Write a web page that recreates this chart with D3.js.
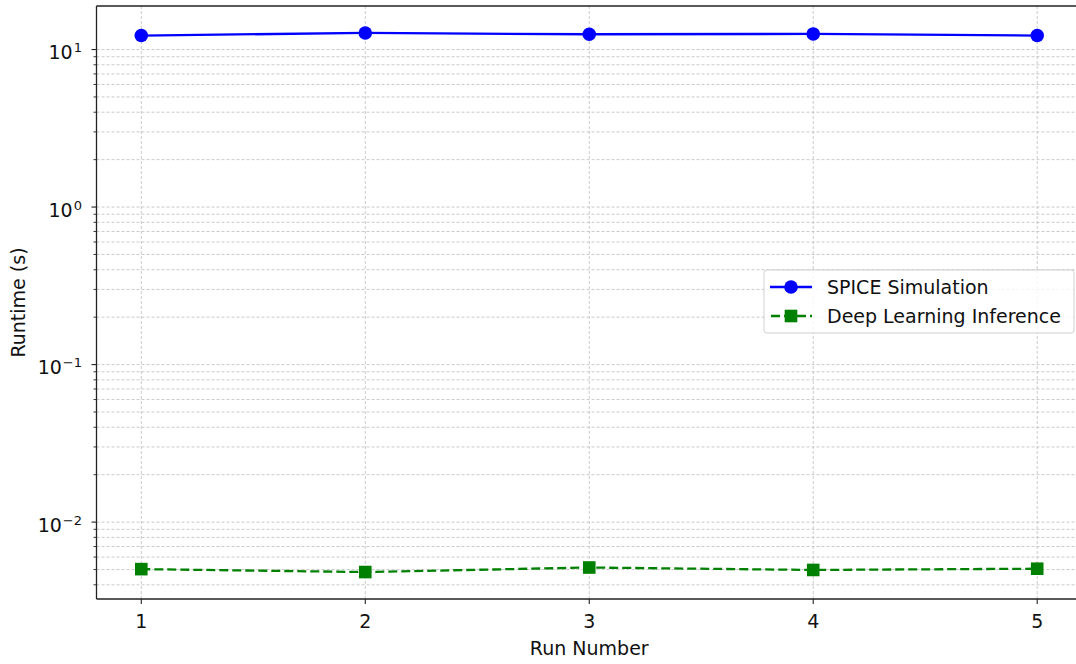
<!DOCTYPE html>
<html>
<head>
<meta charset="utf-8">
<script src="https://cdn.jsdelivr.net/npm/d3@7"></script>
<style>
  body { margin: 0; background: #fff; }
  svg { display: block; font-family: "DejaVu Sans", sans-serif; }
</style>
</head>
<body>
<svg id="chart" width="1076" height="664"></svg>
<script>
// data
const runs = [1, 2, 3, 4, 5];
const spiceRuntime = [12.27, 12.74, 12.50, 12.56, 12.27];
const dlRuntime = [0.00503, 0.00482, 0.00515, 0.00497, 0.00506];
const decadeTicks = [0.01, 0.1, 1, 10];
const xLabel = "Run Number";
const yLabel = "Runtime (s)";
const seriesNames = ["SPICE Simulation", "Deep Learning Inference"];

const svg = d3.select("#chart");
const plotLeft = 96.5, plotRight = 1082, plotTop = 6, plotBottom = 599;
const fontPx = "19px";

const xScale = d3.scaleLinear().domain([0.8, 5.2]).range([plotLeft, plotRight]);

// log axis with a 5% margin in log space, like matplotlib's autoscale
const allVals = spiceRuntime.concat(dlRuntime);
const lo = Math.log10(d3.min(allVals)), hi = Math.log10(d3.max(allVals));
const pad = (hi - lo) * 0.05;
const yScale = d3.scaleLog()
    .domain([Math.pow(10, lo - pad), Math.pow(10, hi + pad)])
    .range([plotBottom, plotTop]);

const [yMin, yMax] = yScale.domain();
let minorTicks = [];
for (let e = -4; e <= 2; e++) {
    for (let m = 2; m <= 9; m++) {
        const v = m * Math.pow(10, e);
        if (v >= yMin && v <= yMax) minorTicks.push(v);
    }
}

const gridColor = "#bdbdbd";
const grid = svg.append("g");
grid.selectAll(".ygrid")
    .data(decadeTicks.concat(minorTicks))
    .enter()
    .append("line")
    .attr("x1", plotLeft).attr("x2", plotRight)
    .attr("y1", d => yScale(d)).attr("y2", d => yScale(d))
    .style("stroke", gridColor)
    .style("stroke-width", 0.8)
    .style("stroke-dasharray", "3,2");
grid.selectAll(".xgrid")
    .data(runs)
    .enter()
    .append("line")
    .attr("x1", d => xScale(d)).attr("x2", d => xScale(d))
    .attr("y1", plotTop).attr("y2", plotBottom)
    .style("stroke", gridColor)
    .style("stroke-width", 0.8)
    .style("stroke-dasharray", "3,2");

// spines
svg.append("line").attr("x1", plotLeft).attr("x2", plotLeft).attr("y1", plotTop).attr("y2", plotBottom)
    .style("stroke", "#222").style("stroke-width", 1.3);
svg.append("line").attr("x1", plotLeft).attr("x2", plotRight).attr("y1", plotBottom).attr("y2", plotBottom)
    .style("stroke", "#222").style("stroke-width", 1.3);
svg.append("line").attr("x1", plotLeft).attr("x2", plotRight).attr("y1", plotTop).attr("y2", plotTop)
    .style("stroke", "#222").style("stroke-width", 1.3);

// x axis ticks
const xAxis = svg.append("g");
xAxis.selectAll(".xt")
    .data(runs)
    .enter()
    .append("line")
    .attr("x1", d => xScale(d)).attr("x2", d => xScale(d))
    .attr("y1", plotBottom).attr("y2", plotBottom + 5)
    .style("stroke", "#222").style("stroke-width", 1.1);
xAxis.selectAll(".xl")
    .data(runs)
    .enter()
    .append("text")
    .attr("x", d => xScale(d))
    .attr("y", 628)
    .attr("text-anchor", "middle")
    .style("font-size", fontPx)
    .style("fill", "#111")
    .text(d => d);

// y axis ticks
const yAxis = svg.append("g");
yAxis.selectAll(".ymaj")
    .data(decadeTicks)
    .enter()
    .append("line")
    .attr("x1", plotLeft - 5).attr("x2", plotLeft)
    .attr("y1", d => yScale(d)).attr("y2", d => yScale(d))
    .style("stroke", "#222").style("stroke-width", 1.1);
yAxis.selectAll(".ymin")
    .data(minorTicks)
    .enter()
    .append("line")
    .attr("x1", plotLeft - 3).attr("x2", plotLeft)
    .attr("y1", d => yScale(d)).attr("y2", d => yScale(d))
    .style("stroke", "#222").style("stroke-width", 0.9);
const yLabels = yAxis.selectAll(".yl")
    .data(decadeTicks)
    .enter()
    .append("text")
    .attr("x", 82)
    .attr("y", d => yScale(d) + 9.5)
    .attr("text-anchor", "end")
    .style("font-size", fontPx)
    .style("fill", "#111");
yLabels.append("tspan").text("10");
yLabels.append("tspan")
    .attr("dx", 1)
    .attr("dy", -7)
    .style("font-size", "13px")
    .text(d => {
        const e = Math.round(Math.log10(d));
        return e < 0 ? "\u2212" + Math.abs(e) : String(e);
    });

// axis titles
svg.append("text")
    .attr("x", (plotLeft + plotRight) / 2)
    .attr("y", 655)
    .attr("text-anchor", "middle")
    .style("font-size", fontPx)
    .style("fill", "#111")
    .text(xLabel);
svg.append("text")
    .attr("transform", `translate(25,${(plotTop + plotBottom) / 2}) rotate(-90)`)
    .attr("text-anchor", "middle")
    .style("font-size", fontPx)
    .style("fill", "#111")
    .text(yLabel);

// series
const line = d3.line().x((d, i) => xScale(runs[i])).y(d => yScale(d));
const plot = svg.append("g");
plot.append("path")
    .datum(spiceRuntime)
    .attr("d", line)
    .style("fill", "none")
    .style("stroke", "blue")
    .style("stroke-width", 2.3);
plot.selectAll(".pt")
    .data(spiceRuntime)
    .enter()
    .append("circle")
    .attr("cx", (d, i) => xScale(runs[i]))
    .attr("cy", d => yScale(d))
    .attr("r", 6.8)
    .style("fill", "blue");

plot.append("path")
    .datum(dlRuntime)
    .attr("d", line)
    .style("fill", "none")
    .style("stroke", "green")
    .style("stroke-width", 2.3)
    .style("stroke-dasharray", "9,4");
plot.selectAll(".sq")
    .data(dlRuntime)
    .enter()
    .append("rect")
    .attr("x", (d, i) => xScale(runs[i]) - 6.3)
    .attr("y", d => yScale(d) - 6.3)
    .attr("width", 12.6)
    .attr("height", 12.6)
    .style("fill", "green");

// legend
const legend = svg.append("g");
legend.append("rect")
    .attr("x", 764).attr("y", 270)
    .attr("width", 310).attr("height", 63)
    .attr("rx", 3)
    .style("fill", "white")
    .style("fill-opacity", 0.8)
    .style("stroke", "#d0d0d0")
    .style("stroke-width", 1);
const rows = [287, 316];
legend.append("line")
    .attr("x1", 770).attr("x2", 812).attr("y1", rows[0]).attr("y2", rows[0])
    .style("stroke", "blue").style("stroke-width", 2.3);
legend.append("circle").attr("cx", 791).attr("cy", rows[0]).attr("r", 6.8).style("fill", "blue");
legend.append("line")
    .attr("x1", 770).attr("x2", 812).attr("y1", rows[1]).attr("y2", rows[1])
    .style("stroke", "green").style("stroke-width", 2.3)
    .style("stroke-dasharray", "9,4").style("stroke-dashoffset", -1);
legend.append("rect").attr("x", 784.7).attr("y", rows[1] - 6.3).attr("width", 12.6).attr("height", 12.6).style("fill", "green");
legend.selectAll(".lt")
    .data(seriesNames)
    .enter()
    .append("text")
    .attr("x", 827)
    .attr("y", (d, i) => rows[i] + 7)
    .style("font-size", fontPx)
    .style("fill", "#111")
    .text(d => d);
</script>
</body>
</html>
